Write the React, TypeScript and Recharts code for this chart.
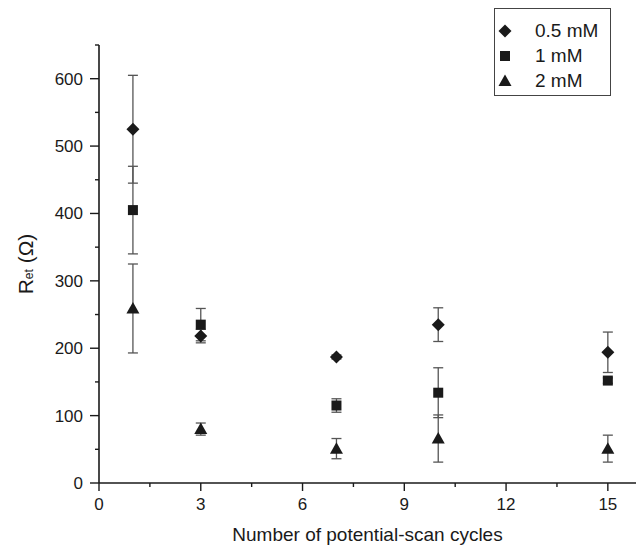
import { ScatterChart, Scatter, XAxis, YAxis, ErrorBar, Legend } from 'recharts'

// cycles on x, R_et (ohm) on y, with +/- error
const cycles = [1, 3, 7, 10, 15]
const ret05 = [525, 218, 187, 235, 194]
const err05 = [80, 10, 3, 25, 30]
const ret1 = [405, 235, 115, 134, 152]
const err1 = [65, 24, 10, 37, 4]
const ret2 = [259, 80, 51, 66, 51]
const err2 = [66, 9, 15, 35, 20]
const seriesNames = ['0.5 mM', '1 mM', '2 mM']

const xTicks = [0, 1.5, 3, 4.5, 6, 7.5, 9, 10.5, 12, 13.5, 15]
const yTicks = [0, 50, 100, 150, 200, 250, 300, 350, 400, 450, 500, 550, 600, 650]

const FONT = '"Liberation Sans", Arial, sans-serif'
const INK = '#1a1a1a'

const toPoints = (ys: number[], errs: number[]) =>
  cycles.map((c, i) => ({ x: c, y: ys[i], err: errs[i] }))

const data05 = toPoints(ret05, err05)
const data1 = toPoints(ret1, err1)
const data2 = toPoints(ret2, err2)

function Diamond({ cx, cy }: any) {
  const r = 6.5
  return <path d={`M${cx},${cy - r}L${cx + r},${cy}L${cx},${cy + r}L${cx - r},${cy}Z`} fill={INK} />
}

function Square({ cx, cy }: any) {
  const h = 5
  return <rect x={cx - h} y={cy - h} width={h * 2} height={h * 2} fill={INK} />
}

function Triangle({ cx, cy }: any) {
  return <path d={`M${cx},${cy - 6.5}L${cx + 6.5},${cy + 5}L${cx - 6.5},${cy + 5}Z`} fill={INK} />
}

const markers = [Diamond, Square, Triangle]

function YTick({ x, y, payload }: any) {
  const major = payload.value % 100 === 0
  return (
    <g>
      <line x1={x - (major ? 9 : 4)} x2={x} y1={y} y2={y} stroke={INK} strokeWidth={1.4} />
      {major && (
        <text x={x - 16} y={y + 6} textAnchor="end" fontSize={17} fontFamily={FONT} fill={INK}>
          {payload.value}
        </text>
      )}
    </g>
  )
}

function XTick({ x, y, payload }: any) {
  const major = payload.value % 3 === 0
  return (
    <g>
      <line x1={x} x2={x} y1={y} y2={y + (major ? 8 : 4)} stroke={INK} strokeWidth={1.4} />
      {major && (
        <text x={x} y={y + 27} textAnchor="middle" fontSize={17} fontFamily={FONT} fill={INK}>
          {payload.value}
        </text>
      )}
    </g>
  )
}

function LegendBox() {
  return (
    <div
      style={{
        border: '1px solid #444',
        background: 'white',
        padding: '9px 12px 2px 0',
        fontFamily: FONT,
        fontSize: 19,
        color: INK,
        lineHeight: '25px',
      }}
    >
      {seriesNames.map((name, i) => {
        const M = markers[i]
        return (
          <div key={name} style={{ display: 'flex', alignItems: 'center' }}>
            <svg width={20} height={20} style={{ marginRight: 20 }}>
              <M cx={10} cy={10} />
            </svg>
            <span>{name}</span>
          </div>
        )
      })}
    </div>
  )
}

export default function App() {
  return (
    <div style={{ position: 'absolute', left: 0, top: 0, width: 636, height: 547, background: 'white', overflow: 'hidden' }}>
      <ScatterChart width={636} height={547} margin={{ top: 45, right: 0, bottom: 0, left: 0 }}>
        <XAxis
          type="number"
          dataKey="x"
          domain={[0, 15.83]}
          ticks={xTicks}
          interval={0}
          tickSize={0}
          tickMargin={0}
          tickLine={false}
          tick={<XTick />}
          height={64}
          axisLine={{ stroke: INK, strokeWidth: 1.6 }}
          label={({ viewBox }: any) => (
            <text
              x={viewBox.x + viewBox.width / 2}
              y={viewBox.y + 58}
              textAnchor="middle"
              fontSize={19}
              fontFamily={FONT}
              fill={INK}
            >
              Number of potential-scan cycles
            </text>
          )}
        />
        <YAxis
          type="number"
          dataKey="y"
          domain={[0, 650]}
          ticks={yTicks}
          interval={0}
          tickSize={0}
          tickMargin={0}
          tickLine={false}
          tick={<YTick />}
          width={99}
          axisLine={{ stroke: INK, strokeWidth: 1.6 }}
          label={({ viewBox }: any) => {
            const cx = 25
            const cy = viewBox.y + viewBox.height / 2
            return (
              <text
                x={cx}
                y={cy}
                transform={`rotate(-90 ${cx} ${cy})`}
                textAnchor="middle"
                dominantBaseline="central"
                fontSize={21}
                fontFamily={FONT}
                fill={INK}
              >
                R
                <tspan fontSize={12} dy={4}>et</tspan>
                <tspan dy={-4}> (Ω)</tspan>
              </text>
            )
          }}
        />
        <Legend
          layout="horizontal"
          verticalAlign="middle"
          align="center"
          content={() => <LegendBox />}
          wrapperStyle={{ left: 494, top: 8, width: 'auto', height: 'auto' }}
        />
        <Scatter name={seriesNames[0]} data={data05} shape={<Diamond />} isAnimationActive={false}>
          <ErrorBar dataKey="err" direction="y" width={5} stroke="#555" strokeWidth={1.3} />
        </Scatter>
        <Scatter name={seriesNames[1]} data={data1} shape={<Square />} isAnimationActive={false}>
          <ErrorBar dataKey="err" direction="y" width={5} stroke="#555" strokeWidth={1.3} />
        </Scatter>
        <Scatter name={seriesNames[2]} data={data2} shape={<Triangle />} isAnimationActive={false}>
          <ErrorBar dataKey="err" direction="y" width={5} stroke="#555" strokeWidth={1.3} />
        </Scatter>
      </ScatterChart>
    </div>
  )
}
